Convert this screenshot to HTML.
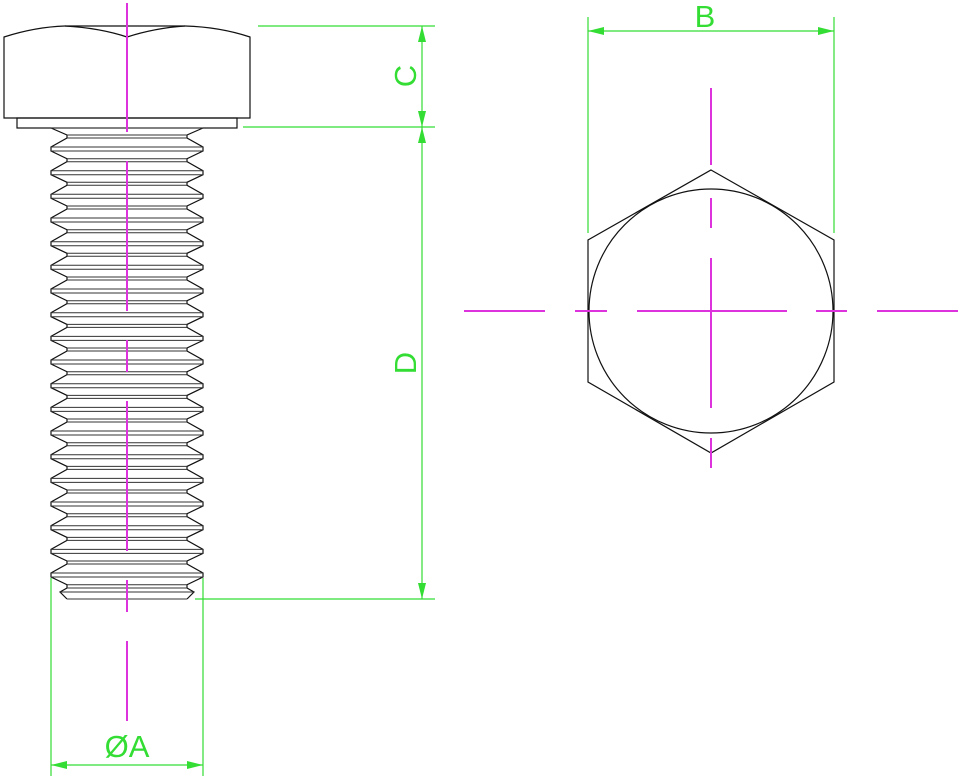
<!DOCTYPE html>
<html><head><meta charset="utf-8"><style>html,body{margin:0;padding:0;background:#fff}svg{display:block}</style></head>
<body>
<svg width="964" height="779" viewBox="0 0 964 779" xmlns="http://www.w3.org/2000/svg">
<defs>
<path id="zz" fill="none" stroke="#111" stroke-width="1.2" d="M51,128 L67,135 L67,138 L51,147 L51,151 L67,158.7 L67,161.7 L51,170.7 L51,174.7 L67,182.3 L67,185.3 L51,194.3 L51,198.3 L67,206 L67,209 L51,218 L51,222 L67,229.7 L67,232.7 L51,241.7 L51,245.7 L67,253.3 L67,256.3 L51,265.3 L51,269.3 L67,277 L67,280 L51,289 L51,293 L67,300.7 L67,303.7 L51,312.7 L51,316.7 L67,324.4 L67,327.4 L51,336.4 L51,340.4 L67,348 L67,351 L51,360 L51,364 L67,371.7 L67,374.7 L51,383.7 L51,387.7 L67,395.4 L67,398.4 L51,407.4 L51,411.4 L67,419 L67,422 L51,431 L51,435 L67,442.7 L67,445.7 L51,454.7 L51,458.7 L67,466.4 L67,469.4 L51,478.4 L51,482.4 L67,490 L67,493 L51,502 L51,506 L67,513.7 L67,516.7 L51,525.7 L51,529.7 L67,537.4 L67,540.4 L51,549.4 L51,553.4 L67,561 L67,564 L51,573 L51,577 L67,584.7 L67,588 L60,592 L67,599"/>
</defs>
<!-- head -->
<g fill="none" stroke="#111" stroke-width="1.2">
<path d="M4,37 Q35,27 65,26 L185,26 Q220,27 250,37 L250,118 L4,118 Z"/>
<path d="M65,26 Q100,28 127,37 Q155,28 185,26"/>
<line x1="127" y1="37" x2="127" y2="118"/>
<rect x="17" y="118" width="220" height="10"/>
</g>
<!-- threads -->
<use href="#zz"/>
<use href="#zz" transform="matrix(-1,0,0,1,254,0)"/>
<path fill="none" stroke="#333" stroke-width="1" d="M51,128H203
M67,135H187M67,138H187M51,147H203M51,151H203
M67,158.7H187M67,161.7H187M51,170.7H203M51,174.7H203
M67,182.3H187M67,185.3H187M51,194.3H203M51,198.3H203
M67,206H187M67,209H187M51,218H203M51,222H203
M67,229.7H187M67,232.7H187M51,241.7H203M51,245.7H203
M67,253.3H187M67,256.3H187M51,265.3H203M51,269.3H203
M67,277H187M67,280H187M51,289H203M51,293H203
M67,300.7H187M67,303.7H187M51,312.7H203M51,316.7H203
M67,324.4H187M67,327.4H187M51,336.4H203M51,340.4H203
M67,348H187M67,351H187M51,360H203M51,364H203
M67,371.7H187M67,374.7H187M51,383.7H203M51,387.7H203
M67,395.4H187M67,398.4H187M51,407.4H203M51,411.4H203
M67,419H187M67,422H187M51,431H203M51,435H203
M67,442.7H187M67,445.7H187M51,454.7H203M51,458.7H203
M67,466.4H187M67,469.4H187M51,478.4H203M51,482.4H203
M67,490H187M67,493H187M51,502H203M51,506H203
M67,513.7H187M67,516.7H187M51,525.7H203M51,529.7H203
M67,537.4H187M67,540.4H187M51,549.4H203M51,553.4H203
M67,561H187M67,564H187M51,573H203M51,577H203
M67,584.7H187M67,588H187M60,592H194M67,599H187"/>
<!-- hex view -->
<g fill="none" stroke="#111" stroke-width="1.2">
<polygon points="711,170 834,240 834,382 711,453 588,382 588,240"/>
<circle cx="711" cy="311" r="122"/>
</g>
<!-- center lines -->
<g stroke="#dd33dd" stroke-width="2">
<path d="M127,3V132M127,161V311M127,340V372M127,401V551M127,580V612M127,641V721"/>
<path d="M711,88V165M711,198V228M711,258V408M711,438V468"/>
<path d="M464,311H545M575,311H607M637,311H787M816,311H847M877,311H958"/>
</g>
<!-- dimensions -->
<g stroke="#33dd33" stroke-width="1.2" fill="none">
<path d="M258,26H435M243,127H435M422,26V599M195,599H435"/>
<path d="M588,17V233M834,17V233M588,31H834"/>
<path d="M51,578V776M203,578V776M51,765H203"/>
</g>
<g fill="#33dd33">
<polygon points="422,26 418,42 426,42"/>
<polygon points="422,127 418,111 426,111"/>
<polygon points="422,127 418,143 426,143"/>
<polygon points="422,599 418,583 426,583"/>
<polygon points="588,31 604,27 604,35"/>
<polygon points="834,31 818,27 818,35"/>
<polygon points="51,765 67,761 67,769"/>
<polygon points="203,765 187,761 187,769"/>
</g>
<g fill="#33dd33" font-family="Liberation Sans, sans-serif" font-size="31" text-anchor="middle">
<text x="705" y="27">B</text>
<text x="127" y="757">ØA</text>
<text transform="translate(416,76) rotate(-90)">C</text>
<text transform="translate(416,363) rotate(-90)">D</text>
</g>
</svg>
</body></html>
